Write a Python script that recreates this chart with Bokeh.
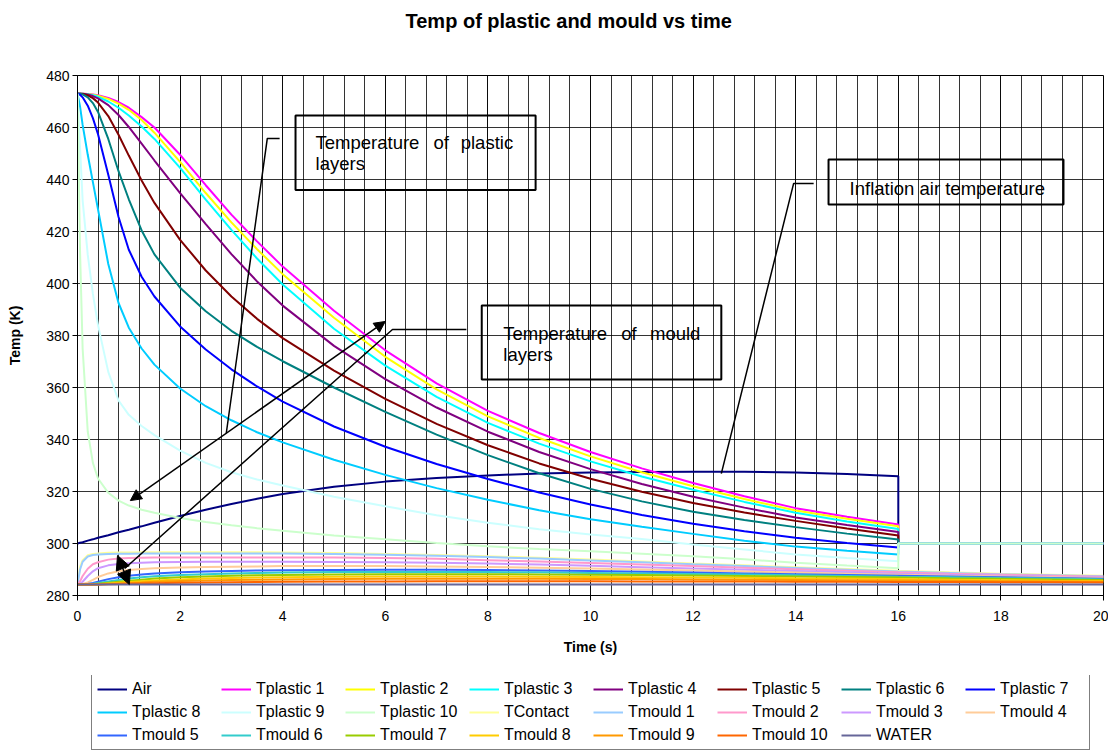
from bokeh.plotting import figure
from bokeh.layouts import column
from bokeh.models import (Legend, LegendItem, Range1d, SingleIntervalTicker,
                          Arrow, NormalHead, Title)
from bokeh.core.properties import value
from bokeh.embed import file_html
from bokeh.resources import INLINE

FONT = "Liberation Sans"

# ---------------- data ----------------
time_heat = [0, 0.05, 0.1, 0.2, 0.3, 0.4, 0.6, 0.8, 1.0, 1.25, 1.5, 2, 2.5, 3,
             3.5, 4, 5, 6, 7, 8, 9, 10, 11, 12, 13, 14, 15, 16]
time_after = [16, 20]
after_ejection = [300, 300]
time_mould = time_heat + [17, 18, 19, 20]
time_water = [0, 20]

air = [300, 300.3, 300.5, 301.1, 301.6, 302.2, 303.2, 304.3, 305.3, 306.6, 308,
       310.6, 313, 315.2, 317.2, 319, 321.8, 323.8, 325.2, 326.2, 326.9, 327.3,
       327.5, 327.6, 327.6, 327.3, 326.7, 325.9]
tplastic_1 = [473, 473, 473, 472.9, 472.7, 472.4, 471.4, 469.8, 467.6, 464, 460,
              449.5, 437.8, 426.5, 416.2, 406.5, 389.5, 374.3, 361.6, 351, 342.5,
              335.2, 328.9, 323.3, 318.2, 313.6, 310.3, 307.3]
tplastic_2 = [473, 473, 473, 472.9, 472.6, 472.2, 471, 469.2, 466.8, 462.9, 458,
              446.8, 434.8, 423.5, 413.2, 403.6, 386.8, 371.8, 359.3, 348.9,
              340.6, 333.5, 327.4, 322, 317.1, 312.7, 309.5, 306.6]
tplastic_3 = [473, 473, 473, 472.8, 472.4, 471.8, 470, 467.6, 464.6, 460.4, 455.6,
              444.5, 432.3, 420.6, 409.6, 399.6, 382.6, 368.4, 356.4, 346.4,
              338.4, 331.6, 325.8, 320.7, 316, 311.8, 308.5, 305.6]
tplastic_4 = [473, 473, 473, 472.7, 472.1, 471.2, 468.6, 464.8, 460.2, 453.8,
              447.3, 434.8, 422.8, 411.3, 400.8, 391.5, 376, 363.2, 352.3, 343,
              335.2, 328.6, 322.9, 318, 313.8, 310, 307.1, 304.4]
tplastic_5 = [473, 473, 472.9, 472.4, 471.3, 469.6, 464.4, 457.2, 449.2, 439.6,
              431, 416.8, 405, 395, 386.4, 379, 366.5, 355.6, 346, 337.8, 330.8,
              324.9, 319.9, 315.6, 311.9, 308.7, 305.8, 303.1]
tplastic_6 = [473, 473, 472.7, 471.6, 469.4, 466, 455.6, 443.2, 432.4, 420.4,
              411.2, 398.4, 389.3, 381.8, 375.6, 370.1, 360, 350.6, 341.9, 334,
              327, 321, 316.2, 312.2, 309, 306.3, 303.8, 301.5]
tplastic_7 = [473, 472.6, 471.6, 468.4, 463.6, 457.4, 441.8, 425.6, 413, 402.6,
              395, 383.5, 374.6, 367, 360.4, 354.6, 345, 337.2, 330.6, 324.8,
              319.6, 315, 311, 307.6, 304.7, 302.2, 300.2, 298.5]
tplastic_8 = [473, 468, 461, 449.5, 439, 428.5, 407.5, 392.5, 383, 375, 368.8,
              359.6, 352.8, 347.4, 342.8, 338.9, 332.2, 326.4, 321.3, 316.8,
              312.8, 309.3, 306.4, 303.7, 301.1, 298.8, 297.2, 295.8]
tplastic_9 = [473, 452, 432, 411, 396, 384, 366, 355, 349.5, 345.2, 341.7, 335.7,
              331, 327.4, 324.6, 322.3, 318, 314.3, 310.9, 308, 305.5, 303.5,
              301.7, 299.6, 297.7, 295.8, 294.4, 293.2]
tplastic_10 = [473, 412, 375, 343, 331, 325, 319.5, 316.5, 314.6, 313, 311.8,
               309.8, 308.3, 307, 305.9, 304.9, 303.1, 301.6, 300.2, 298.9, 297.9,
               297, 296.1, 295.1, 293.9, 292.6, 291.5, 290.5]

tcontact = [284.2, 291, 293.6, 295.5, 296, 296.2, 296.4, 296.5, 296.5, 296.6,
            296.6, 296.6, 296.6, 296.6, 296.6, 296.5, 296.3, 296, 295.6, 295.1,
            294.5, 293.8, 293.1, 292.3, 291.6, 290.9, 290.2, 289.5, 288.9, 288.4,
            288, 287.6]
tmould_1 = [284.2, 290, 293, 295, 295.6, 295.8, 296, 296.1, 296.1, 296.2, 296.2,
            296.2, 296.2, 296.2, 296.2, 296.2, 296, 295.7, 295.3, 294.8, 294.2,
            293.5, 292.8, 292, 291.3, 290.6, 289.9, 289.2, 288.7, 288.2, 287.8,
            287.4]
tmould_2 = [284.2, 285.5, 287.5, 290.3, 292, 292.8, 293.8, 294.2, 294.4, 294.5,
            294.6, 294.6, 294.6, 294.6, 294.6, 294.6, 294.6, 294.4, 294.1, 293.6,
            293.1, 292.5, 291.9, 291.3, 290.7, 290.1, 289.5, 288.9, 288.4, 288,
            287.6, 287.2]
tmould_3 = [284.2, 284.5, 285.3, 287.5, 289.3, 290.5, 291.6, 292.1, 292.4, 292.6,
            292.8, 292.9, 293, 293, 293, 293, 292.9, 292.8, 292.6, 292.3, 291.9,
            291.4, 290.9, 290.4, 289.9, 289.4, 288.9, 288.4, 288, 287.6, 287.2,
            286.9]
tmould_4 = [284.2, 284.2, 284.4, 285, 286, 287.1, 288.5, 289.3, 289.8, 290.2,
            290.5, 290.8, 291, 291.1, 291.2, 291.3, 291.3, 291.3, 291.2, 291,
            290.7, 290.4, 290, 289.6, 289.2, 288.8, 288.4, 288, 287.6, 287.3, 287,
            286.7]
tmould_5 = [284.2, 284.2, 284.2, 284.4, 284.8, 285.3, 286.3, 287, 287.6, 288.1,
            288.5, 288.9, 289.2, 289.4, 289.6, 289.7, 289.8, 289.9, 289.9, 289.8,
            289.6, 289.4, 289.1, 288.8, 288.5, 288.2, 287.9, 287.6, 287.3, 287,
            286.7, 286.4]
tmould_6 = [284.2, 284.2, 284.2, 284.3, 284.5, 284.8, 285.4, 286, 286.5, 287,
            287.4, 287.9, 288.2, 288.5, 288.7, 288.8, 289, 289, 289, 289, 288.9,
            288.7, 288.5, 288.3, 288.1, 287.8, 287.5, 287.2, 287, 286.7, 286.5,
            286.2]
tmould_7 = [284.2, 284.2, 284.2, 284.2, 284.3, 284.5, 284.9, 285.3, 285.7, 286.1,
            286.5, 287, 287.3, 287.6, 287.8, 287.9, 288.1, 288.2, 288.2, 288.2,
            288.1, 288, 287.9, 287.7, 287.5, 287.3, 287.1, 286.9, 286.6, 286.4,
            286.2, 286]
tmould_8 = [284.2, 284.2, 284.2, 284.2, 284.2, 284.3, 284.6, 284.9, 285.2, 285.5,
            285.8, 286.2, 286.5, 286.7, 286.9, 287, 287.2, 287.3, 287.3, 287.3,
            287.2, 287.1, 287, 286.9, 286.8, 286.6, 286.5, 286.3, 286.1, 285.9,
            285.7, 285.6]
tmould_9 = [284.2, 284.2, 284.2, 284.2, 284.2, 284.2, 284.4, 284.6, 284.8, 285,
            285.3, 285.6, 285.8, 286, 286.1, 286.2, 286.3, 286.4, 286.4, 286.4,
            286.4, 286.3, 286.3, 286.2, 286.1, 286, 285.9, 285.8, 285.7, 285.5,
            285.4, 285.3]
tmould_10 = [284.2, 284.2, 284.2, 284.2, 284.2, 284.2, 284.3, 284.4, 284.5, 284.6,
             284.7, 284.9, 285, 285.1, 285.2, 285.3, 285.4, 285.4, 285.5, 285.5,
             285.5, 285.5, 285.4, 285.4, 285.4, 285.3, 285.3, 285.2, 285.2, 285.1,
             285.1, 285]
water = [284.2, 284.2]

plastic_names = ["Air", "Tplastic 1", "Tplastic 2", "Tplastic 3", "Tplastic 4",
                 "Tplastic 5", "Tplastic 6", "Tplastic 7", "Tplastic 8",
                 "Tplastic 9", "Tplastic 10"]
plastic_values = [air, tplastic_1, tplastic_2, tplastic_3, tplastic_4, tplastic_5,
                  tplastic_6, tplastic_7, tplastic_8, tplastic_9, tplastic_10]
plastic_colors = ["#000080", "#ff00ff", "#ffff00", "#00ffff", "#800080",
                  "#800000", "#008080", "#0000ff", "#00ccff", "#ccffff", "#ccffcc"]

mould_names = ["TContact", "Tmould 1", "Tmould 2", "Tmould 3", "Tmould 4",
               "Tmould 5", "Tmould 6", "Tmould 7", "Tmould 8", "Tmould 9",
               "Tmould 10"]
mould_values = [tcontact, tmould_1, tmould_2, tmould_3, tmould_4, tmould_5,
                tmould_6, tmould_7, tmould_8, tmould_9, tmould_10]
mould_colors = ["#ffff99", "#99ccff", "#ff99cc", "#cc99ff", "#ffcc99", "#3366ff",
                "#33cccc", "#99cc00", "#ffcc00", "#ff9900", "#ff6600"]
water_color = "#666699"

# annotation boxes (data units): left, right, top, bottom
box_left = [4.25, 7.88, 14.64]
box_right = [8.93, 12.55, 19.22]
box_top = [464.6, 391.5, 447.7]
box_bottom = [436.0, 363.1, 430.4]

# annotation words (justified like the original)
word_x = [4.64, 6.94, 7.47, 4.64, 8.30, 10.60, 11.16, 8.30, 15.05]
word_y = [454.2, 454.2, 454.2, 446.2, 380.6, 380.6, 380.6, 372.7, 436.4]
words = ["Temperature", "of", "plastic", "layers", "Temperature", "of", "mould",
         "layers", "Inflation air temperature"]

# callout lines
callout_plastic_x = [3.94, 3.70, 2.90]
callout_plastic_y = [455.8, 455.8, 342.4]
callout_mould_x = [7.58, 6.14, 0.92]
callout_mould_y = [382.3, 382.3, 290.4]
callout_air_x = [14.35, 13.96, 12.55]
callout_air_y = [438.5, 438.5, 326.9]
# double arrows: x_start, y_start, x_end, y_end
arrow_plastic = (1.03, 316.5, 6.0, 385.4)
arrow_mould = (0.78, 295.4, 1.01, 284.2)

legend_order = ["Air", "Tplastic 1", "Tplastic 2", "Tplastic 3", "Tplastic 4",
                "Tplastic 5", "Tplastic 6", "Tplastic 7", "Tplastic 8",
                "Tplastic 9", "Tplastic 10", "TContact", "Tmould 1", "Tmould 2",
                "Tmould 3", "Tmould 4", "Tmould 5", "Tmould 6", "Tmould 7",
                "Tmould 8", "Tmould 9", "Tmould 10", "WATER"]

# ---------------- main figure ----------------
p = figure(width=1108, height=675, output_backend="svg", toolbar_location=None,
           x_range=Range1d(0, 20), y_range=Range1d(280, 480),
           min_border_left=77, min_border_right=5, min_border_top=75,
           min_border_bottom=80, background_fill_color="white",
           border_fill_color="white")

# spacer (inner) + real title (outer) so the title sits high above the frame
p.add_layout(Title(text=" ", text_font_size="10px", standoff=31), "above")
p.add_layout(Title(text="Temp of plastic and mould vs time", align="left",
                   offset=328, vertical_align="bottom", standoff=0,
                   text_font=FONT, text_font_size="20px",
                   text_font_style="bold", text_color="black"), "above")

p.outline_line_color = "black"
p.outline_line_width = 1

p.xaxis.ticker = SingleIntervalTicker(interval=2, num_minor_ticks=5)
p.yaxis.ticker = SingleIntervalTicker(interval=20, num_minor_ticks=0)
for ax in (p.xaxis, p.yaxis):
    ax.axis_line_color = "black"
    ax.major_tick_line_color = "black"
    ax.major_tick_in = 0
    ax.major_tick_out = 5
    ax.minor_tick_line_color = None
    ax.major_label_text_font = FONT
    ax.major_label_text_font_size = "14px"
    ax.major_label_text_color = "black"
    ax.axis_label_text_font = FONT
    ax.axis_label_text_font_size = "14px"
    ax.axis_label_text_font_style = "bold"
    ax.axis_label_text_color = "black"
p.xaxis.axis_label = "Time (s)"
p.yaxis.axis_label = "Temp (K)"
p.xaxis.major_label_standoff = 10
p.xaxis.axis_label_standoff = 15
p.yaxis.major_label_standoff = 3
p.yaxis.axis_label_standoff = 20

p.xgrid.grid_line_color = "black"
p.xgrid.grid_line_alpha = 0.8
p.xgrid.minor_grid_line_color = "black"
p.xgrid.minor_grid_line_alpha = 0.8
p.ygrid.grid_line_color = "black"
p.ygrid.grid_line_alpha = 0.8

series_color = {}
for name, vals, col in zip(plastic_names, plastic_values, plastic_colors):
    p.line(time_heat + time_after, vals + after_ejection, line_color=col,
           line_width=2)
    series_color[name] = col
for name, vals, col in zip(mould_names, mould_values, mould_colors):
    p.line(time_mould, vals, line_color=col, line_width=2)
    series_color[name] = col
p.line(time_water, water, line_color=water_color, line_width=2)
series_color["WATER"] = water_color

# annotations
p.quad(left=box_left, right=box_right, top=box_top, bottom=box_bottom,
       fill_color=None, line_color="black", line_width=2)
for cx, cy in ((callout_plastic_x, callout_plastic_y),
               (callout_mould_x, callout_mould_y),
               (callout_air_x, callout_air_y)):
    p.line(cx, cy, line_color="black", line_width=1.5)
for (xs, ys, xe, ye), hs in ((arrow_plastic, 11), (arrow_mould, 14)):
    p.add_layout(Arrow(start=NormalHead(size=hs, fill_color="black",
                                        line_color="black"),
                       end=NormalHead(size=hs, fill_color="black",
                                      line_color="black"),
                       x_start=xs, y_start=ys, x_end=xe, y_end=ye,
                       line_color="black", line_width=1.5))
p.text(x=word_x, y=word_y, text=words, text_font=value(FONT),
       text_font_size="18.5px", text_color="black", text_baseline="alphabetic",
       text_align="left")

# ---------------- legend strip ----------------
pl = figure(width=1108, height=75, output_backend="svg", toolbar_location=None,
            x_range=Range1d(0, 1), y_range=Range1d(0, 1), min_border=0,
            x_axis_location=None, y_axis_location=None,
            outline_line_color=None, background_fill_color="white",
            border_fill_color="white")
pl.grid.visible = False
items = []
for n in legend_order:
    # a single-point line draws nothing; it only carries the legend style
    r = pl.line(x=[0], y=[0], line_color=series_color[n], line_width=2)
    items.append(LegendItem(label=n, renderers=[r]))
legend = Legend(items=items, orientation="horizontal", ncols=8,
                location=(14, 0), label_text_font=FONT,
                label_text_font_size="16px", label_text_color="black",
                glyph_width=30, glyph_height=18, label_standoff=5,
                label_width=84, label_height=18, spacing=5, padding=5,
                margin=0, border_line_color="black", border_line_width=1,
                background_fill_color="white")
pl.add_layout(legend)

page = column(p, pl, spacing=0)
open("out.html", "w").write(file_html(page, INLINE))
